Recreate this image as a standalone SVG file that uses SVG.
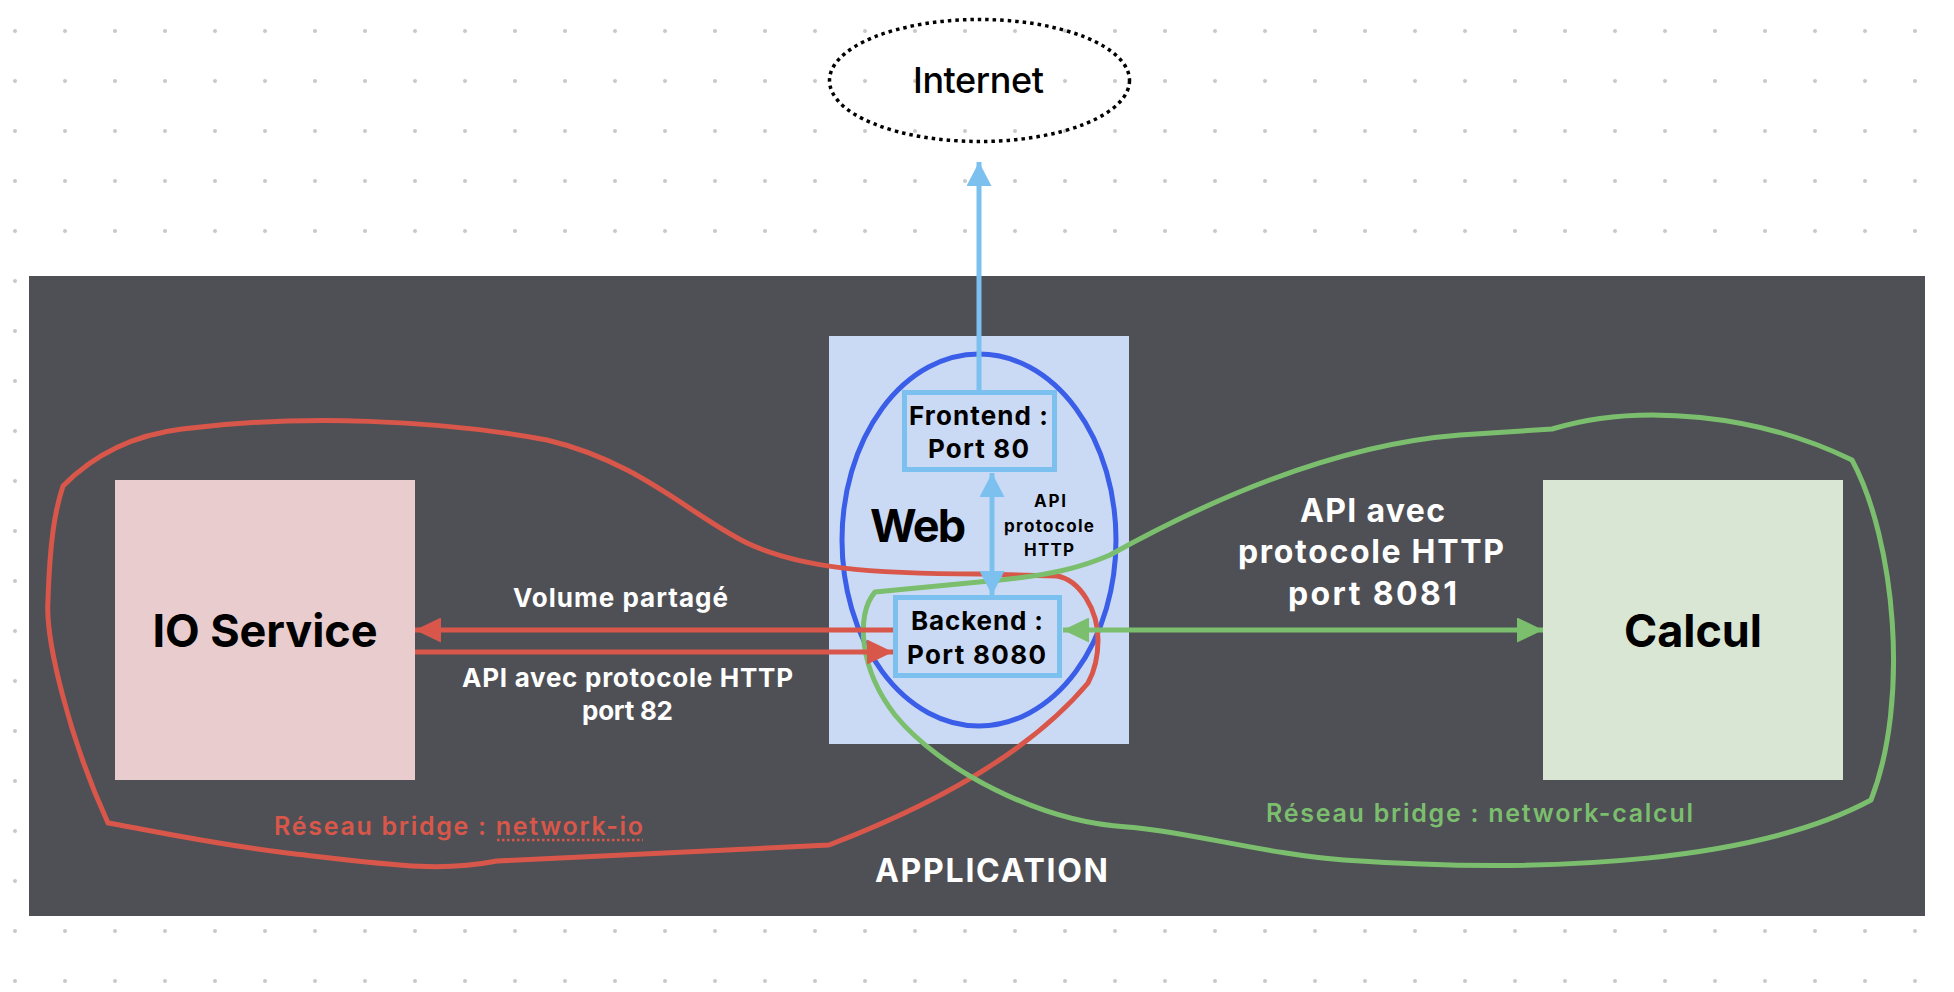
<svg xmlns="http://www.w3.org/2000/svg" width="1954" height="992" viewBox="0 0 1954 992">
  <style>
    text { font-family: Inter, "Liberation Sans", Arial, sans-serif; }
    .b { font-weight: 700; }
    .dark { fill: #000000; }
    .white { fill: #ffffff; font-weight: 700; }
    .mid { text-anchor: middle; }
    .red { stroke: #d9574a; }
    .green { stroke: #7bbf6e; }
    .blue { stroke: #7cc0f0; }
    .conn { fill: none; stroke-width: 5; }
    .net { fill: none; stroke-width: 5; stroke-linejoin: round; }
  </style>
  <defs>
    <pattern id="grid" x="-10" y="6" width="50" height="50" patternUnits="userSpaceOnUse">
      <circle cx="25" cy="25" r="2" fill="#c8c8c8"/>
    </pattern>
    <marker id="ahRed" markerUnits="userSpaceOnUse" markerWidth="26" markerHeight="25" refX="26" refY="12.5" orient="auto-start-reverse">
      <path d="M0,0 L26,12.5 L0,25 Z" fill="#d9574a"/>
    </marker>
    <marker id="ahGreen" markerUnits="userSpaceOnUse" markerWidth="26" markerHeight="25" refX="26" refY="12.5" orient="auto-start-reverse">
      <path d="M0,0 L26,12.5 L0,25 Z" fill="#7bbf6e"/>
    </marker>
    <marker id="ahBlue" markerUnits="userSpaceOnUse" markerWidth="24" markerHeight="25" refX="24" refY="12.5" orient="auto-start-reverse">
      <path d="M0,0 L24,12.5 L0,25 Z" fill="#7cc0f0"/>
    </marker>
  </defs>

  <rect width="1954" height="992" fill="#ffffff"/>
  <rect width="1954" height="992" fill="url(#grid)"/>

  <g id="application">
    <rect x="29" y="276" width="1896" height="640" fill="#4f5055"/>
    <text x="991.5" y="882" class="white mid" font-size="32" textLength="233" lengthAdjust="spacing">APPLICATION</text>
  </g>

  <g id="internet">
    <ellipse cx="979.5" cy="80.5" rx="150" ry="61" fill="none" stroke="#000000" stroke-width="3.5" stroke-dasharray="3.5 4"/>
    <text x="978.5" y="93" class="mid dark" font-size="36" font-weight="500" textLength="131" lengthAdjust="spacing">Internet</text>
  </g>

  <g id="io-service">
    <rect x="115" y="480" width="300" height="300" fill="#e9cccd"/>
    <text x="265" y="647" class="b mid dark" font-size="45" textLength="225" lengthAdjust="spacing">IO Service</text>
  </g>

  <g id="calcul">
    <rect x="1543" y="480" width="300" height="300" fill="#dae6d4"/>
    <text x="1693" y="647" class="b mid dark" font-size="45" textLength="138" lengthAdjust="spacing">Calcul</text>
  </g>

  <g id="web">
    <rect x="829" y="336" width="300" height="408" fill="#cbdaf4"/>
    <ellipse cx="979" cy="540" rx="137" ry="186" fill="none" stroke="#3b5ee8" stroke-width="5"/>
    <text x="870" y="542" class="b dark" font-size="45" textLength="96" lengthAdjust="spacing">Web</text>
  </g>

  <g id="network-io">
    <path class="net red" d="M63,486 Q110,438 182,429 C300,414 440,420 547,440 C640,462 690,515 747,543 C800,568 870,574 980,574 L1057,576 C1080,580 1098,610 1098,640 C1098,660 1094,672 1088,683 C1040,740 960,795 829,845 L497,861 C440,872 400,866 287,853 C200,842 150,830 108,823 C70,740 45,640 48,600 C50,540 55,510 63,486 Z"/>
    <text x="274" y="835" font-size="25" font-weight="600" fill="#d9574a" textLength="369" lengthAdjust="spacing">Réseau bridge : network-io</text>
    <line x1="497" y1="840" x2="643" y2="840" stroke="#d9574a" stroke-width="2.5" stroke-dasharray="2.5 2.5"/>
  </g>

  <g id="network-calcul">
    <path class="net green" d="M875,592 L1000,580 C1050,575 1080,568 1110,555 C1200,505 1330,445 1460,435 L1552,429 C1640,402 1760,415 1852,460 C1895,540 1910,700 1871,800 C1760,860 1560,875 1344,860 C1270,855 1180,830 1127,827 C1040,822 940,770 895,715 C860,670 855,615 875,592 Z"/>
    <text x="1266" y="822" font-size="25" font-weight="600" fill="#7bbf6e" textLength="427" lengthAdjust="spacing">Réseau bridge : network-calcul</text>
  </g>

  <g id="frontend">
    <rect x="904.5" y="392.5" width="150" height="77" fill="#cbdaf4" stroke="#7cc0f0" stroke-width="5"/>
    <text x="978.5" y="425" class="b mid dark" font-size="26" textLength="139" lengthAdjust="spacing">Frontend :</text>
    <text x="978.5" y="458" class="b mid dark" font-size="26" textLength="101" lengthAdjust="spacing">Port 80</text>
  </g>

  <g id="backend">
    <rect x="895.5" y="597.5" width="164" height="78" fill="#cbdaf4" stroke="#7cc0f0" stroke-width="5"/>
    <text x="977" y="630" class="b mid dark" font-size="26" textLength="132" lengthAdjust="spacing">Backend :</text>
    <text x="976.5" y="664" class="b mid dark" font-size="26" textLength="139" lengthAdjust="spacing">Port 8080</text>
  </g>

  <g id="connectors">
    <line class="conn blue" x1="979" y1="390" x2="979" y2="162" marker-end="url(#ahBlue)"/>
    <line class="conn blue" x1="992" y1="473" x2="992" y2="595" marker-start="url(#ahBlue)" marker-end="url(#ahBlue)"/>
    <line class="conn red" x1="893" y1="630" x2="415" y2="630" marker-end="url(#ahRed)"/>
    <line class="conn red" x1="415" y1="652" x2="893" y2="652" marker-end="url(#ahRed)"/>
    <line class="conn green" x1="1063" y1="630" x2="1543" y2="630" marker-start="url(#ahGreen)" marker-end="url(#ahGreen)"/>
    <text x="1050" y="507" class="b mid dark" font-size="17" textLength="32" lengthAdjust="spacing">API</text>
    <text x="1049" y="532" class="b mid dark" font-size="17" textLength="90" lengthAdjust="spacing">protocole</text>
    <text x="1049" y="556" class="b mid dark" font-size="17" textLength="50" lengthAdjust="spacing">HTTP</text>
    <text x="620.5" y="607" class="white mid" font-size="26" textLength="215" lengthAdjust="spacing">Volume partagé</text>
    <text x="627.5" y="687" class="white mid" font-size="26" textLength="331" lengthAdjust="spacing">API avec protocole HTTP</text>
    <text x="627.5" y="720" class="white mid" font-size="26" textLength="91" lengthAdjust="spacing">port 82</text>
    <text x="1372.5" y="522" class="white mid" font-size="32" textLength="145" lengthAdjust="spacing">API avec</text>
    <text x="1371" y="563" class="white mid" font-size="32" textLength="266" lengthAdjust="spacing">protocole HTTP</text>
    <text x="1372.5" y="605" class="white mid" font-size="32" textLength="169" lengthAdjust="spacing">port 8081</text>
  </g>
</svg>
